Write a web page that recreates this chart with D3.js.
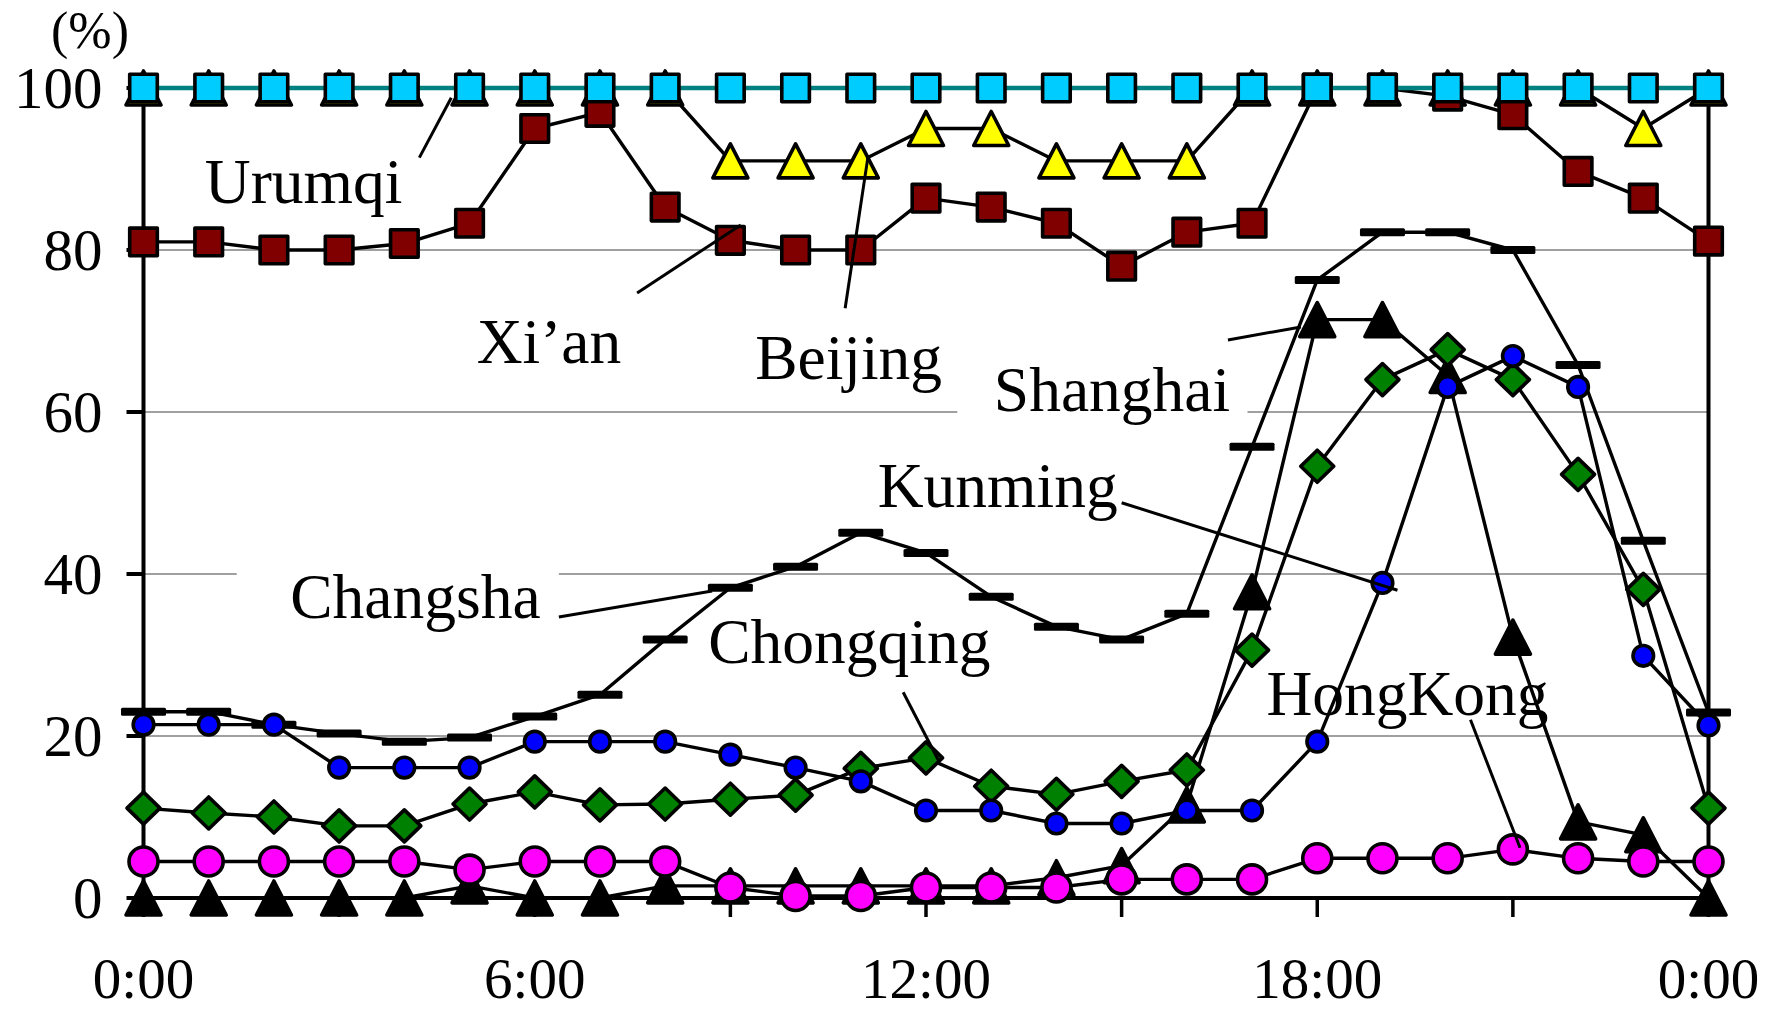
<!DOCTYPE html>
<html>
<head>
<meta charset="utf-8">
<script src="https://cdn.jsdelivr.net/npm/d3@7"></script>
<style>
  html, body { margin: 0; padding: 0; background: #ffffff; }
  svg { display: block; font-family: "Liberation Serif", "Times New Roman", serif; }
</style>
</head>
<body>
<svg id="chart" width="1773" height="1011"></svg>
<script>
// Hourly categories, 0:00 through the following 0:00
const hours = [0, 1, 2, 3, 4, 5, 6, 7, 8, 9, 10, 11, 12, 13, 14, 15, 16, 17, 18, 19, 20, 21, 22, 23, 24];

// Share (%) per hour for each city
const urumqi    = [100, 100, 100, 100, 100, 100, 100, 100, 100, 100, 100, 100, 100, 100, 100, 100, 100, 100, 100, 100, 100, 100, 100, 100, 100];
const beijing   = [100, 100, 100, 100, 100, 100, 100, 100, 100, 91, 91, 91, 95, 95, 91, 91, 91, 100, 100, 100, 100, 100, 100, 95, 100];
const xian      = [81, 81, 80, 80, 80.8, 83.3, 95, 97, 85.3, 81.2, 80, 80, 86.4, 85.3, 83.3, 78, 82.2, 83.3, 100, 100, 99, 96.7, 89.7, 86.4, 81.1];
const shanghai  = [0, 0, 0, 0, 0, 1.5, 0, 0, 1.5, 1.5, 1.5, 1.5, 1.5, 1.5, 2.5, 4, 11.5, 37.8, 71.4, 71.4, 64.5, 32.2, 9.4, 7.8, 0];
const changsha  = [23, 23, 21.4, 20.3, 19.3, 19.8, 22.4, 25.1, 31.9, 38.3, 40.9, 45.1, 42.6, 37.2, 33.5, 31.9, 35.1, 55.7, 76.3, 82.2, 82.2, 80, 65.8, 44.1, 22.9];
const kunming   = [21.4, 21.4, 21.4, 16.1, 16.1, 16.1, 19.3, 19.3, 19.3, 17.7, 16.1, 14.4, 10.8, 10.8, 9.2, 9.2, 10.8, 10.8, 19.3, 38.9, 63.1, 66.9, 63.1, 29.9, 21.3];
const chongqing = [11.1, 10.5, 10, 8.9, 8.9, 11.6, 13.1, 11.5, 11.6, 12.2, 12.7, 16, 17.3, 13.8, 12.8, 14.4, 15.8, 30.6, 53.3, 64, 67.7, 64, 52.3, 38.1, 11.1];
const hongkong  = [4.5, 4.5, 4.5, 4.5, 4.5, 3.5, 4.5, 4.5, 4.5, 1.3, 0.25, 0.25, 1.3, 1.3, 1.3, 2.3, 2.3, 2.3, 4.9, 4.9, 4.9, 6, 4.9, 4.5, 4.5];

// Axis ticks and labels
const xLabelHours = [0, 6, 12, 18, 24];
const xLabels = ["0:00", "6:00", "12:00", "18:00", "0:00"];
const xTickHours = [0, 3, 6, 9, 12, 15, 18, 21, 24];
const yTicks = [0, 20, 40, 60, 80, 100];
const gridValues = [20, 40, 60, 80, 100];

// City names placed in the plot, anchored in (hour, %) units
const cityLabels = ["Urumqi", "Xi\u2019an", "Beijing", "Shanghai", "Kunming", "Changsha", "Chongqing", "HongKong"];
const labelHour  = [0.94, 5.11, 9.38, 13.04, 11.26, 2.25, 8.66, 17.22];
const labelValue = [85.8, 66.05, 64.07, 60.12, 48.27, 34.57, 29.01, 22.59];
// Leader line from each name towards its series
const leaderFrom = [[4.23, 91.4], [7.57, 74.7], [10.76, 72.8], [16.63, 68.9], [15.0, 48.8], [6.37, 34.7], [11.65, 25.4], [20.35, 22.0]];
const leaderTo   = [[4.72, 98.8], [9.16, 83.1], [11.11, 91.5], [17.75, 70.5], [19.23, 38.0], [8.72, 37.9], [12.19, 17.0], [21.11, 6.2]];
// Opaque text boxes that cover the gridlines behind two of the names
const boxHours  = [[1.43, 6.37], [12.48, 16.93]];
const boxValues = [[41.7, 31.9], [66.4, 57.8]];

const svg = d3.select("#chart");
const x = d3.scaleLinear().domain([0, 24]).range([143.5, 1708.5]);
const y = d3.scaleLinear().domain([0, 100]).range([898, 88]);

// Gridlines
svg.append("g").selectAll("line").data(gridValues).join("line")
  .attr("x1", x(0)).attr("x2", x(24))
  .attr("y1", d => y(d)).attr("y2", d => y(d))
  .attr("stroke", "#808080").attr("stroke-width", 1.5);

// White text-box backgrounds
svg.append("g").selectAll("rect").data(boxHours).join("rect")
  .attr("x", d => x(d[0])).attr("width", d => x(d[1]) - x(d[0]))
  .attr("y", (d, i) => y(boxValues[i][0]))
  .attr("height", (d, i) => y(boxValues[i][1]) - y(boxValues[i][0]))
  .attr("fill", "#ffffff");

// Axes frame
const axes = svg.append("g").attr("stroke", "#000").attr("stroke-width", 4);
axes.append("line").attr("x1", x(0)).attr("x2", x(0)).attr("y1", y(100)).attr("y2", y(0));
axes.append("line").attr("x1", x(24)).attr("x2", x(24)).attr("y1", y(100)).attr("y2", y(0));
axes.append("line").attr("x1", x(0) - 2).attr("x2", x(24) + 2).attr("y1", y(0)).attr("y2", y(0));

// Axis ticks
svg.append("g").selectAll("line").data(yTicks).join("line")
  .attr("x1", x(0) - 17).attr("x2", x(0))
  .attr("y1", d => y(d)).attr("y2", d => y(d))
  .attr("stroke", "#000").attr("stroke-width", 4);
svg.append("g").selectAll("line").data(xTickHours).join("line")
  .attr("x1", d => x(d)).attr("x2", d => x(d))
  .attr("y1", y(0)).attr("y2", y(0) + 19)
  .attr("stroke", "#000").attr("stroke-width", 3.5);

// Tick labels
svg.append("g").selectAll("text").data(yTicks).join("text")
  .attr("x", x(0) - 41).attr("y", d => y(d) + 20)
  .attr("text-anchor", "end").attr("font-size", 59).attr("fill", "#000")
  .text(d => d);
svg.append("g").selectAll("text").data(xLabelHours).join("text")
  .attr("x", d => x(d)).attr("y", 998)
  .attr("text-anchor", "middle").attr("font-size", 57).attr("fill", "#000")
  .text((d, i) => xLabels[i]);
svg.append("text").attr("x", 51).attr("y", 47.5)
  .attr("font-size", 52).attr("fill", "#000").text("(%)");

// Marker shapes
function markerPath(type) {
  switch (type) {
    case "triangle": return "M0,-17L17.5,17L-17.5,17Z";
    case "square":   return "M-13.8,-13.8H13.8V13.8H-13.8Z";
    case "diamond":  return "M0,-16L16.5,0L0,16L-16.5,0Z";
    default: return null;
  }
}

const series = [
  { values: shanghai,  marker: "triangle", fill: "#000000", line: "#000000", lw: 3.4 },
  { values: changsha,  marker: "dash",     fill: "#000000", line: "#000000", lw: 3.4 },
  { values: chongqing, marker: "diamond",  fill: "#008000", line: "#000000", lw: 3.4 },
  { values: hongkong,  marker: "circle",   fill: "#FF00FF", line: "#000000", lw: 3.4, r: 14.5 },
  { values: kunming,   marker: "circle",   fill: "#0000FF", line: "#000000", lw: 3.4, r: 10.3 },
  { values: beijing,   marker: "triangle", fill: "#FFFF00", line: "#000000", lw: 3.4 },
  { values: xian,      marker: "square",   fill: "#800000", line: "#000000", lw: 3.4 },
  { values: urumqi,    marker: "square",   fill: "#00CCFF", line: "#008080", lw: 4.5 }
];

const lineGen = d3.line().x((d, i) => x(hours[i])).y(d => y(d));

series.forEach(s => {
  const g = svg.append("g");
  g.append("path").attr("d", lineGen(s.values))
    .attr("fill", "none").attr("stroke", s.line).attr("stroke-width", s.lw)
    .attr("stroke-linejoin", "round");
  const pts = g.selectAll("g.pt").data(s.values).join("g")
    .attr("transform", (d, i) => `translate(${x(hours[i])},${y(d)})`);
  if (s.marker === "circle") {
    pts.append("circle").attr("r", s.r)
      .attr("fill", s.fill).attr("stroke", "#000").attr("stroke-width", 3.6);
  } else if (s.marker === "dash") {
    pts.append("rect").attr("x", -22.5).attr("y", -4).attr("width", 45).attr("height", 8)
      .attr("rx", 1.5).attr("fill", "#000");
  } else {
    pts.append("path").attr("d", markerPath(s.marker))
      .attr("fill", s.fill).attr("stroke", "#000").attr("stroke-width", 3.6)
      .attr("stroke-linejoin", "round");
  }
});

// Leader lines
svg.append("g").selectAll("line").data(leaderFrom).join("line")
  .attr("x1", d => x(d[0])).attr("y1", d => y(d[1]))
  .attr("x2", (d, i) => x(leaderTo[i][0])).attr("y2", (d, i) => y(leaderTo[i][1]))
  .attr("stroke", "#000").attr("stroke-width", 3);

// City names
svg.append("g").selectAll("text").data(cityLabels).join("text")
  .attr("x", (d, i) => x(labelHour[i])).attr("y", (d, i) => y(labelValue[i]))
  .attr("font-size", 63.5).attr("fill", "#000")
  .text(d => d);
</script>
</body>
</html>
